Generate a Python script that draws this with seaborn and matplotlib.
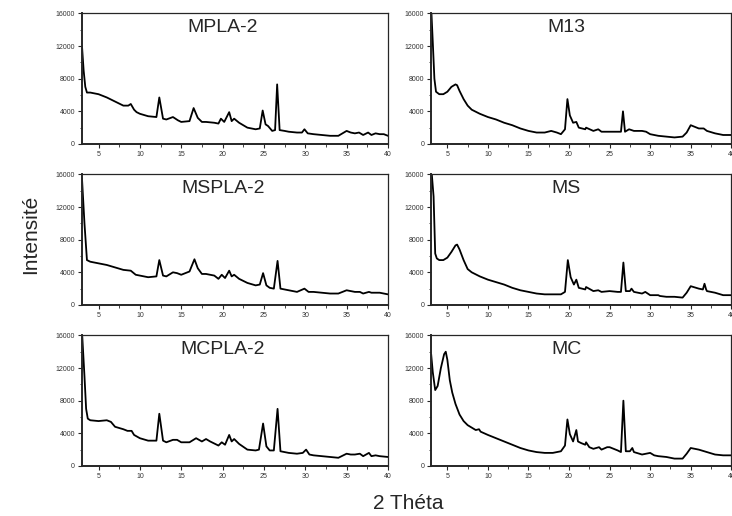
"""
XRD patterns of the six samples, 3x2 grid of panels.
"""

import matplotlib

matplotlib.use("Agg")
import matplotlib.pyplot as plt
import seaborn as sns
from matplotlib.ticker import MultipleLocator

# 2 theta / intensity, one pair of lists per sample
mpla2_x = [3.0, 3.2, 3.4, 3.6, 4.0, 5.0, 6.0, 7.0, 8.0, 8.6, 8.9, 9.3, 9.6, 10.0, 11.0, 12.0,
           12.35, 12.8, 13.2, 14.0, 14.6, 15.0, 16.0, 16.5, 17.0, 17.5, 18.0, 19.0, 19.5, 19.8,
           20.2, 20.8, 21.1, 21.4, 22.0, 23.0, 24.0, 24.5, 24.85, 25.2, 25.5, 26.0, 26.35, 26.6,
           26.9, 27.5, 28.0, 29.0, 29.6, 29.9, 30.3, 31.0, 32.0, 33.0, 34.0, 35.0, 35.5, 36.0,
           36.5, 37.0, 37.6, 38.0, 38.5, 39.0, 39.5, 40.0]
mpla2_y = [12000, 9000, 7000, 6300, 6300, 6100, 5700, 5200, 4700, 4700, 4900, 4200, 3900, 3700,
           3400, 3300, 5700, 3100, 3000, 3300, 2900, 2700, 2800, 4400, 3200, 2700, 2700, 2600,
           2500, 3100, 2700, 3900, 2800, 3100, 2600, 2000, 1800, 1900, 4100, 2400, 2200, 1600,
           1700, 7300, 1700, 1600, 1500, 1400, 1400, 1800, 1300, 1200, 1100, 1000, 1000, 1600,
           1400, 1300, 1400, 1100, 1400, 1100, 1300, 1200, 1200, 1000]

m13_x = [3.0, 3.2, 3.4, 3.6, 4.0, 4.5, 5.0, 5.5, 6.0, 6.2, 6.5, 7.0, 7.5, 8.0, 9.0, 10.0, 11.0,
         12.0, 13.0, 14.0, 15.0, 16.0, 17.0, 17.8, 18.5, 19.0, 19.5, 19.8, 20.1, 20.5, 20.9,
         21.2, 22.0, 22.1, 23.0, 23.6, 24.0, 25.0, 26.0, 26.4, 26.65, 26.9, 27.4, 27.7, 28.0,
         29.0, 29.5, 30.0, 31.0, 32.0, 33.0, 34.0, 34.5, 35.0, 35.5, 36.0, 36.6, 37.0, 38.0,
         39.0, 40.0]
m13_y = [16800, 12500, 8000, 6400, 6100, 6100, 6400, 7000, 7300, 7200, 6500, 5500, 4700, 4200,
         3700, 3300, 3000, 2600, 2300, 1900, 1600, 1400, 1400, 1600, 1400, 1200, 1800, 5500,
         3500, 2600, 2700, 2000, 1800, 2000, 1600, 1800, 1500, 1500, 1500, 1500, 4000, 1500,
         1800, 1700, 1600, 1600, 1500, 1200, 1000, 900, 800, 900, 1400, 2300, 2100, 1900, 1900,
         1600, 1300, 1100, 1100]

mspla2_x = [3.0, 3.3, 3.6, 4.0, 5.0, 6.0, 7.0, 8.0, 8.9, 9.5, 10.0, 11.0, 12.0, 12.35, 12.8,
            13.2, 14.0, 14.5, 15.0, 16.0, 16.6, 17.0, 17.5, 18.0, 19.0, 19.5, 19.9, 20.3, 20.8,
            21.1, 21.4, 22.0, 23.0, 24.0, 24.5, 24.9, 25.3, 25.7, 26.2, 26.65, 27.0, 28.0, 29.0,
            29.9, 30.4, 31.0, 32.0, 33.0, 34.0, 35.0, 35.5, 36.0, 36.6, 37.0, 37.7, 38.0, 39.0,
            40.0]
mspla2_y = [15500, 10000, 5500, 5300, 5100, 4900, 4600, 4300, 4200, 3700, 3600, 3400, 3500,
            5500, 3600, 3500, 4000, 3900, 3700, 4100, 5600, 4500, 3800, 3800, 3600, 3200, 3700,
            3300, 4200, 3500, 3700, 3200, 2700, 2400, 2500, 3900, 2400, 2100, 2000, 5400, 2000,
            1800, 1600, 2000, 1600, 1600, 1500, 1400, 1400, 1800, 1700, 1600, 1600, 1400, 1600,
            1500, 1500, 1300]

ms_x = [3.0, 3.3, 3.5, 3.7, 4.0, 4.5, 5.0, 5.5, 6.0, 6.2, 6.5, 7.0, 7.5, 8.0, 9.0, 10.0, 11.0,
        12.0, 13.0, 14.0, 15.0, 16.0, 17.0, 18.0, 19.0, 19.5, 19.85, 20.2, 20.6, 20.9, 21.2,
        22.0, 22.1, 23.0, 23.6, 24.0, 25.0, 26.0, 26.4, 26.7, 27.0, 27.5, 27.7, 28.0, 29.0,
        29.4, 30.0, 31.0, 31.2, 32.0, 33.0, 34.0, 34.5, 35.0, 36.0, 36.5, 36.7, 36.9, 37.0,
        38.0, 39.0, 40.0]
ms_y = [17000, 13300, 6300, 5700, 5500, 5500, 5800, 6500, 7300, 7400, 6800, 5500, 4400, 4000,
        3500, 3100, 2800, 2500, 2100, 1800, 1600, 1400, 1300, 1300, 1300, 1600, 5500, 3400,
        2500, 3100, 2100, 1900, 2200, 1700, 1800, 1600, 1700, 1600, 1600, 5200, 1700, 1700,
        2000, 1600, 1400, 1600, 1200, 1200, 1100, 1000, 1000, 900, 1500, 2300, 2000, 1900,
        2600, 1900, 1700, 1500, 1200, 1200]

mcpla2_x = [3.0, 3.3, 3.5, 3.7, 4.0, 5.0, 6.0, 6.5, 7.0, 8.0, 8.5, 9.0, 9.3, 10.0, 11.0, 12.0,
            12.35, 12.8, 13.2, 14.0, 14.5, 15.0, 16.0, 16.8, 17.5, 18.0, 18.5, 19.5, 19.9, 20.3,
            20.8, 21.1, 21.4, 22.0, 23.0, 24.0, 24.4, 24.9, 25.3, 25.7, 26.2, 26.65, 27.0, 28.0,
            29.0, 29.7, 30.1, 30.5, 31.0, 32.0, 33.0, 34.0, 35.0, 35.5, 36.0, 36.6, 37.0, 37.7,
            38.0, 38.5, 39.0, 40.0]
mcpla2_y = [16500, 11000, 7000, 5800, 5600, 5500, 5600, 5400, 4800, 4500, 4300, 4300, 3800,
            3400, 3100, 3100, 6400, 3100, 2900, 3200, 3200, 2900, 2900, 3400, 3000, 3300, 3000,
            2500, 2900, 2600, 3800, 3000, 3300, 2700, 2000, 1900, 2000, 5200, 2400, 1900, 1900,
            7000, 1800, 1600, 1500, 1600, 2000, 1400, 1300, 1200, 1100, 1000, 1500, 1400, 1400,
            1500, 1200, 1600, 1200, 1300, 1200, 1100]

mc_x = [3.0, 3.2, 3.5, 3.8, 4.2, 4.6, 4.8, 5.0, 5.3, 5.6, 6.0, 6.5, 7.0, 7.5, 8.0, 8.5, 8.9,
        9.1, 10.0, 11.0, 12.0, 13.0, 14.0, 15.0, 16.0, 17.0, 18.0, 19.0, 19.5, 19.8, 20.1,
        20.5, 20.9, 21.1, 21.5, 22.0, 22.1, 22.5, 23.0, 23.7, 24.0, 24.7, 25.0, 25.5, 26.0,
        26.4, 26.7, 27.0, 27.5, 27.8, 28.0, 29.0, 30.0, 30.5, 31.0, 32.0, 33.0, 34.0, 34.5,
        35.0, 35.5, 36.0, 37.0, 38.0, 39.0, 40.0]
mc_y = [13700, 11500, 9300, 9800, 12000, 13700, 14000, 13000, 10500, 9000, 7600, 6300, 5500,
        5000, 4700, 4400, 4500, 4200, 3800, 3400, 3000, 2600, 2200, 1900, 1700, 1600, 1600,
        1800, 2500, 5700, 3900, 3000, 4400, 3000, 2800, 2600, 2900, 2300, 2100, 2300, 2000,
        2300, 2300, 2100, 1900, 1700, 8000, 1800, 1800, 2200, 1700, 1400, 1600, 1300, 1200,
        1100, 900, 900, 1500, 2200, 2100, 2000, 1700, 1400, 1300, 1300]

names = ["MPLA-2", "M13", "MSPLA-2", "MS", "MCPLA-2", "MC"]
series = [(mpla2_x, mpla2_y), (m13_x, m13_y), (mspla2_x, mspla2_y),
          (ms_x, ms_y), (mcpla2_x, mcpla2_y), (mc_x, mc_y)]

sns.set_style("ticks")
plt.rcParams["font.family"] = ["Liberation Sans", "DejaVu Sans"]

fig = plt.figure(figsize=(7.32, 5.16), dpi=100)

# panel boxes in figure fractions (left col / right col, three rows)
lefts = [0.112, 0.589]
widths = [0.418, 0.410]
bottoms = [0.721, 0.409, 0.097]
height = 0.253
title_x = [0.46, 0.45]

for i, (name, (xs, ys)) in enumerate(zip(names, series)):
    row, col = divmod(i, 2)
    ax = fig.add_axes([lefts[col], bottoms[row], widths[col], height])
    sns.lineplot(x=xs, y=ys, ax=ax, color="black", linewidth=1.3,
                 estimator=None, sort=False)
    ax.set_xlim(3, 40)
    ax.set_ylim(0, 16000)
    ax.xaxis.set_major_locator(MultipleLocator(5))
    ax.xaxis.set_minor_locator(MultipleLocator(2.5))
    ax.yaxis.set_major_locator(MultipleLocator(4000))
    ax.yaxis.set_minor_locator(MultipleLocator(2000))
    ax.tick_params(which="major", direction="out", length=3, width=0.8,
                   labelsize=5, labelcolor="#333333", pad=2)
    ax.tick_params(which="minor", direction="out", length=1.8, width=0.6)
    for side in ["left", "bottom"]:
        ax.spines[side].set_linewidth(1.4)
    for side in ["top", "right"]:
        ax.spines[side].set_linewidth(0.9)
    ax.text(title_x[col], 0.89, name, transform=ax.transAxes,
            ha="center", va="center", fontsize=14)

fig.text(0.042, 0.545, "Intensité", rotation=90, ha="center", va="center",
         fontsize=15)
fig.text(0.558, 0.025, "2 Théta", ha="center", va="center", fontsize=15)

fig.savefig("out.png", dpi=100)
